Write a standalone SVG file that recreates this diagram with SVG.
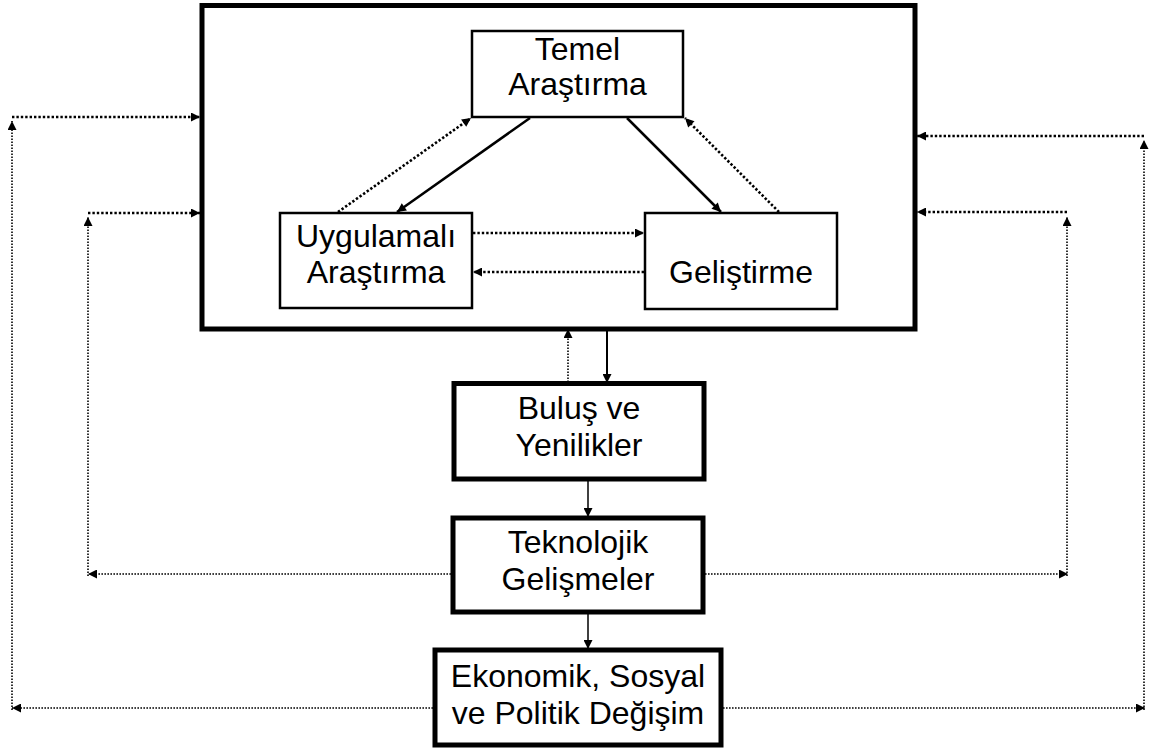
<svg xmlns="http://www.w3.org/2000/svg" width="1151" height="749" viewBox="0 0 1151 749">
<style>
.box{fill:#fff;stroke:#000}
.thin{stroke-width:2.5}
.thick{stroke-width:5}
.t{font-family:"Liberation Sans",Arial,sans-serif;font-size:32px;fill:#000;text-anchor:middle}
.sol{stroke:#000;fill:none}
.dt{stroke:#000;fill:none;stroke-width:2.6;stroke-dasharray:2.4 2}
.ds{stroke:#000;fill:none;stroke-width:1.6;stroke-dasharray:1.6 1.4}
</style>
<defs>
<marker id="ah" viewBox="0 0 10 10" refX="10" refY="5" markerWidth="10" markerHeight="9" markerUnits="userSpaceOnUse" orient="auto"><path d="M0,0 L10,5 L0,10 z" fill="#000"/></marker>
</defs>
<rect width="1151" height="749" fill="#fff"/>
<g id="container"><rect class="box thick" x="202" y="5.5" width="713" height="323.5"/></g>
<g id="temel"><rect class="box thin" x="472" y="31" width="211" height="86"/><text class="t" x="577.5" y="60">Temel</text><text class="t" x="577.5" y="95">Araştırma</text></g>
<g id="uygulamali"><rect class="box thin" x="280" y="213" width="192" height="95"/><text class="t" x="376" y="247">Uygulamalı</text><text class="t" x="376" y="283">Araştırma</text></g>
<g id="gelistirme"><rect class="box thin" x="645" y="213" width="192" height="96"/><text class="t" x="741" y="283">Geliştirme</text></g>
<g id="bulus"><rect class="box thick" x="454" y="383.5" width="250" height="95.5"/><text class="t" x="579" y="419">Buluş ve</text><text class="t" x="579" y="456">Yenilikler</text></g>
<g id="teknolojik"><rect class="box thick" x="453" y="518" width="250" height="94"/><text class="t" x="578" y="553">Teknolojik</text><text class="t" x="578" y="590">Gelişmeler</text></g>
<g id="ekonomik"><rect class="box thick" x="435" y="650" width="286" height="95"/><text class="t" x="578" y="687">Ekonomik, Sosyal</text><text class="t" x="578" y="724">ve Politik Değişim</text></g>
<g id="connectors">
<line class="sol" stroke-width="2.5" x1="530" y1="118" x2="397" y2="212" marker-end="url(#ah)"/>
<line class="dt" x1="338" y1="212" x2="471" y2="118" marker-end="url(#ah)"/>
<line class="sol" stroke-width="2.5" x1="627" y1="118" x2="721" y2="212" marker-end="url(#ah)"/>
<line class="dt" x1="779" y1="212" x2="685" y2="118" marker-end="url(#ah)"/>
<line class="dt" x1="473" y1="233" x2="644" y2="233" marker-end="url(#ah)"/>
<line class="dt" x1="644" y1="272" x2="473" y2="272" marker-end="url(#ah)"/>
<line class="sol" stroke-width="2" x1="607" y1="327" x2="607" y2="383" marker-end="url(#ah)"/>
<line class="ds" x1="568" y1="382" x2="568" y2="329" marker-end="url(#ah)"/>
<line class="sol" stroke-width="1.5" x1="588" y1="481" x2="588" y2="517" marker-end="url(#ah)"/>
<line class="sol" stroke-width="1.5" x1="588" y1="614" x2="588" y2="649" marker-end="url(#ah)"/>
<line class="ds" x1="451" y1="574" x2="88" y2="574" marker-end="url(#ah)"/>
<line class="ds" x1="88" y1="576" x2="88" y2="217" marker-end="url(#ah)"/>
<line class="dt" x1="88" y1="213" x2="200" y2="213" marker-end="url(#ah)"/>
<line class="ds" x1="433" y1="708" x2="12" y2="708" marker-end="url(#ah)"/>
<line class="ds" x1="12" y1="710" x2="12" y2="121" marker-end="url(#ah)"/>
<line class="dt" x1="12" y1="117" x2="200" y2="117" marker-end="url(#ah)"/>
<line class="ds" x1="705" y1="574" x2="1068" y2="574" marker-end="url(#ah)"/>
<line class="ds" x1="1067" y1="576" x2="1067" y2="217" marker-end="url(#ah)"/>
<line class="dt" x1="1067" y1="212" x2="917" y2="212" marker-end="url(#ah)"/>
<line class="ds" x1="723" y1="708" x2="1145" y2="708" marker-end="url(#ah)"/>
<line class="ds" x1="1144" y1="710" x2="1144" y2="140" marker-end="url(#ah)"/>
<line class="dt" x1="1144" y1="136" x2="917" y2="136" marker-end="url(#ah)"/>
</g>
</svg>
